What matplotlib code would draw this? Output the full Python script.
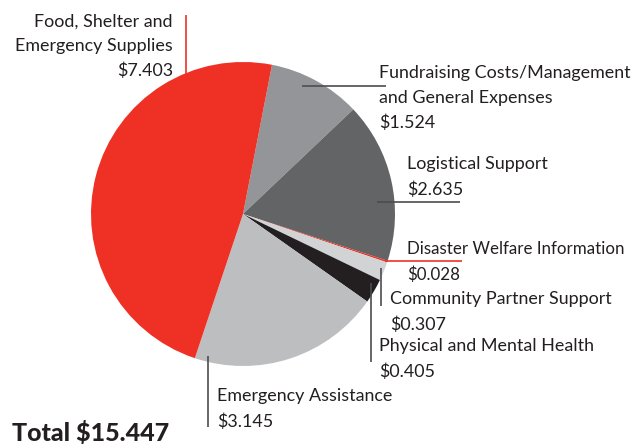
import matplotlib.pyplot as plt

# data
categories = ['Fundraising Costs/Management\nand General Expenses', 'Logistical Support',
              'Disaster Welfare Information', 'Community Partner Support',
              'Physical and Mental Health', 'Emergency Assistance',
              'Food, Shelter and\nEmergency Supplies']
values = [1.524, 2.635, 0.028, 0.307, 0.405, 3.145, 7.403]
colors = ['#939598', '#636466', '#ee3124', '#d1d3d4', '#231f20', '#bcbec0', '#ee3124']
total = 15.447

W, H = 636, 445
fig = plt.figure(figsize=(W / 100, H / 100), dpi=100)
plt.rcParams['font.family'] = ['Lato', 'DejaVu Sans']

# pie axes, center (243, 214) radius 152 px
cx, cy, r = 243, 214, 152
ax = fig.add_axes([(cx - r) / W, (H - cy - r) / H, 2 * r / W, 2 * r / H])
ax.pie(values, colors=colors, startangle=79, counterclock=False,
       wedgeprops=dict(linewidth=0))
ax.set_xlim(-1, 1)
ax.set_ylim(-1, 1)
ax.set_aspect('equal')
ax.axis('off')

# overlay in pixel coords for labels and leader lines
ov = fig.add_axes([0, 0, 1, 1], zorder=5)
ov.set_xlim(0, W)
ov.set_ylim(H, 0)
ov.axis('off')
ov.patch.set_alpha(0)

txt = '#231f20'
line_c = '#4d4d4f'

# leader lines (x0, y0, x1, y1, color)
leaders = [
    (186, 15, 186, 98, '#ee3124'),
    (302, 86, 386, 86, line_c),
    (377, 202, 460, 202, line_c),
    (385, 261, 462, 261, '#ee3124'),
    (381, 268, 381, 306, line_c),
    (371, 283, 371, 362, line_c),
    (208, 356, 208, 427, line_c),
]
for x0, y0, x1, y1, c in leaders:
    ov.plot([x0, x1], [y0, y1], color=c, lw=1.2, solid_capstyle='butt')

# label positions (x, block center y, ha, size)
label_pos = [
    (379, 98, 'left', 12.9),
    (407, 177, 'left', 12.9),
    (407, 262, 'left', 12.2),
    (390, 312, 'left', 12.9),
    (379, 359, 'left', 12.9),
    (217, 409, 'left', 12.9),
    (173, 46, 'right', 12.9),
]
for (x, y, ha, fs), name, v in zip(label_pos, categories, values):
    ov.text(x, y, f'{name}\n${v:.3f}', ha=ha, va='center', fontsize=fs, color=txt,
            linespacing=1.65, multialignment=ha)

ov.text(12, 433, f'Total ${total:.3f}', ha='left', va='center', fontsize=18,
        fontweight='black', color=txt)

fig.savefig('out.png', dpi=100)
